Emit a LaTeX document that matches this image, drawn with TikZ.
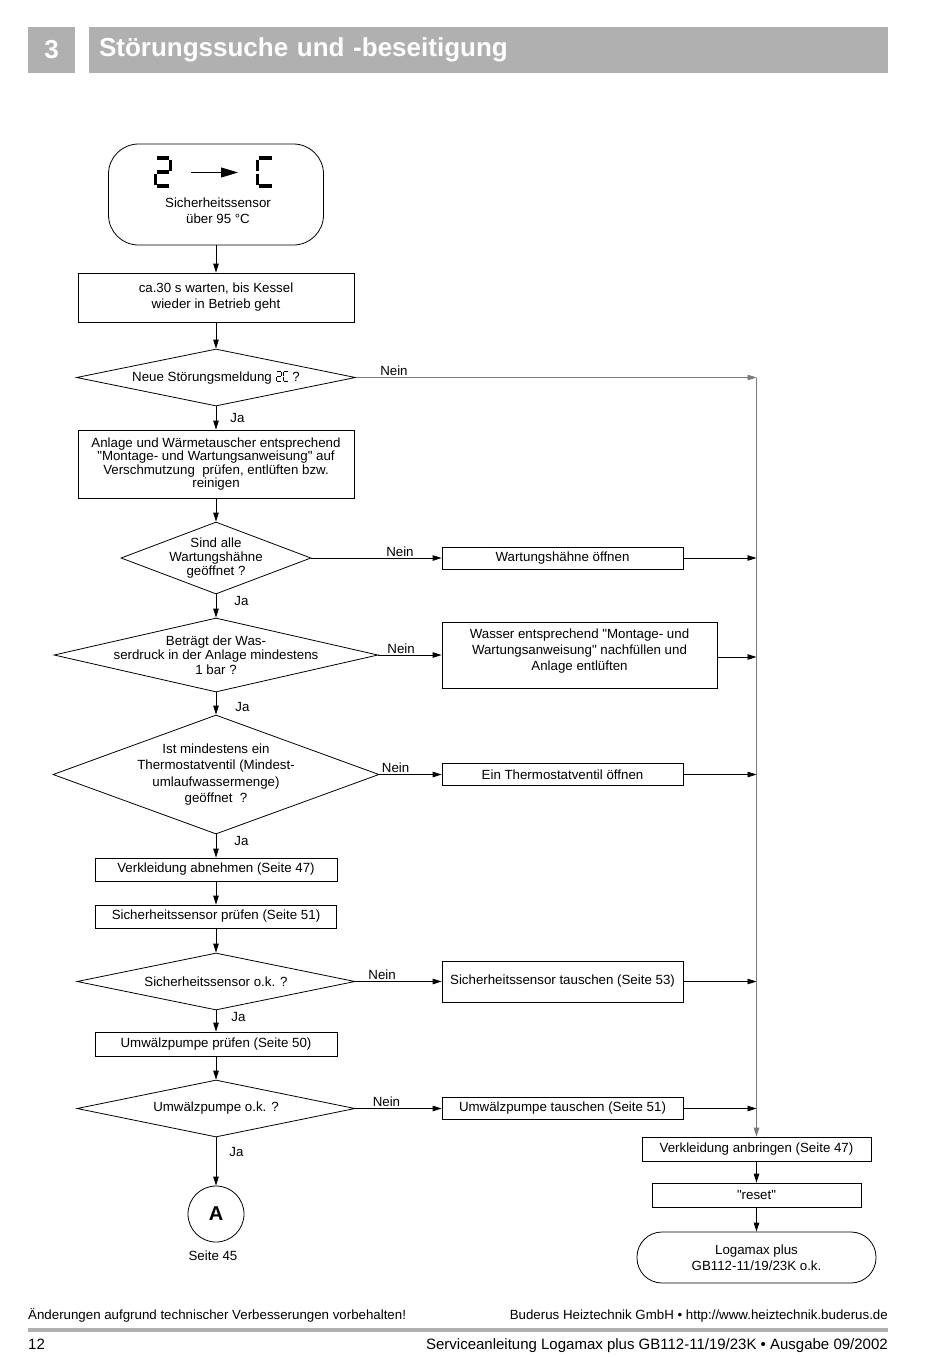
\documentclass[tikz,border=0pt]{standalone}
\usepackage{fontspec}
\setmainfont{Liberation Sans}
\usetikzlibrary{arrows.meta, positioning, shapes.geometric, calc}

\definecolor{hdrgray}{HTML}{B0B0B0}
\definecolor{sidegray}{HTML}{7A7A7A}
\newcommand\fsz[2]{\fontsize{#1}{#2}\selectfont}
\newcommand\qq{\textquotedbl}
% small seven-segment "2C" used inside the first question
\newcommand\minisegs{\tikz[baseline=0pt,x=1pt,y=1pt,line width=1.3pt]{
  \draw (0.3,9.5) -- (4.2,9.5) (4.8,9) -- (4.8,5.3) (0.3,4.8) -- (4.2,4.8)
        (-0.3,4.3) -- (-0.3,0.6) (0.3,0) -- (4.2,0);
  \draw (7.8,9.5) -- (11.5,9.5) (7.2,9) -- (7.2,5.1) (7.2,4.5) -- (7.2,0.6)
        (7.8,0) -- (11.5,0);}}

\begin{document}
\begin{tikzpicture}[x=1pt, y=-1pt,
  hdr/.style  ={fill=hdrgray, text=white, inner sep=0pt, font=\fsz{26}{30}\bfseries},
  box/.style  ={draw, rectangle, inner sep=0pt, align=center, font=\fsz{13.3}{16},
                line width=0.8pt},
  term/.style ={draw, rectangle, inner sep=0pt, align=center, font=\fsz{13.3}{16.5},
                line width=0.8pt},
  dec/.style  ={draw, diamond, inner sep=0pt, line width=0.8pt},
  qtxt/.style ={align=center, inner sep=0pt, font=\fsz{13.3}{14}},
  arr/.style  ={-{Triangle[length=9pt,width=5.5pt]}, line width=0.8pt},
  side/.style ={arr, draw=sidegray, fill=sidegray},
  lbl/.style  ={font=\fsz{13.3}{14}, inner sep=1pt},
  seg/.style  ={line width=3.2pt},
  foot/.style ={inner sep=0pt, font=\fsz{13.3}{14}},
]
\useasboundingbox (0,0) rectangle (950,1357);

%% ---- Header ----
\node[hdr, minimum width=47, minimum height=46] (chap) at (51.5,50) {3};
\node[hdr, minimum width=799, minimum height=46, text width=779, inner xsep=10pt,
      align=left] (title) at (488.5,50) {Störungssuche und -beseitigung};

%% ---- Start: display 2 -> C ----
\node[term, minimum width=215, minimum height=101, rounded corners=30] (start) at (216,194.5) {};
\draw[seg] (157,158) -- (169,158) (170.5,159.5) -- (170.5,170.5) (157,172) -- (169,172)
           (155.5,173.5) -- (155.5,184.5) (157,186) -- (169,186);
\draw[seg] (259,158) -- (272,158) (257.5,159.5) -- (257.5,170.5)
           (257.5,173.5) -- (257.5,184.5) (259,186) -- (272,186);
\draw[-{Triangle[length=17pt,width=10pt]}, line width=0.8pt] (191,172.5) -- (238,172.5);
\node[qtxt, font=\fsz{13.3}{16}] (starttxt) at (218,211) {Sicherheitssensor\\über 95 °C};

%% ---- Main column ----
\node[box, minimum width=276, minimum height=49] (wait)  at (216,297.5)
     {ca.30 s warten, bis Kessel\\wieder in Betrieb geht};
\node[dec, minimum width=279, minimum height=57] (q1) at (216,377.5) {};
\node[qtxt] (q1txt) at (q1) {Neue Störungsmeldung \minisegs\ ?};
\node[box, minimum width=276, minimum height=68, font=\fsz{13.3}{13.4}] (check) at (216,464)
     {Anlage und Wärmetauscher entsprechend\\\qq Montage- und Wartungsanweisung\qq{} auf\\
      Verschmutzung~~prüfen, entlüften bzw.\\reinigen};
\node[dec, minimum width=190, minimum height=72] (q2) at (216,558) {};
\node[qtxt] (q2txt) at (q2) {Sind alle\\Wartungshähne\\geöffnet ?};
\node[dec, minimum width=324, minimum height=74] (q3) at (216,655) {};
\node[qtxt, font=\fsz{13.3}{14.5}] (q3txt) at (q3) {Beträgt der Was-\\serdruck in der Anlage mindestens\\1 bar ?};
\node[dec, minimum width=326, minimum height=119] (q4) at (216,774.5) {};
\node[qtxt, font=\fsz{13.3}{16.3}] (q4txt) at (q4)
     {Ist mindestens ein\\Thermostatventil (Mindest-\\umlaufwassermenge)\\geöffnet~~?};
\node[box, minimum width=242, minimum height=23] (cover) at (216,869.5) {Verkleidung abnehmen (Seite 47)};
\node[box, minimum width=241, minimum height=23] (sens)  at (216,916.5) {Sicherheitssensor prüfen (Seite 51)};
\node[dec, minimum width=278, minimum height=57] (q5) at (216,981.5) {};
\node[qtxt] (q5txt) at (q5) {Sicherheitssensor o.k. ?};
\node[box, minimum width=242, minimum height=24] (pump)  at (216,1044) {Umwälzpumpe prüfen (Seite 50)};
\node[dec, minimum width=278, minimum height=57] (q6) at (216,1108.5) {};
\node[qtxt] (q6txt) at (q6) {Umwälzpumpe o.k. ?};
\node[draw, circle, minimum size=56, inner sep=0pt, line width=0.8pt,
      font=\fsz{20}{22}\bfseries] (A) at (216,1214) {A};
\node[foot] (Apage) at (213,1256) {Seite 45};

%% ---- Remedies ----
\node[box, minimum width=241, minimum height=22] (valves) at (562.5,558) {Wartungshähne öffnen};
\node[box, minimum width=275, minimum height=66, text depth=11pt] (fill) at (579.5,655)
     {Wasser entsprechend \qq Montage- und\\Wartungsanweisung\qq{} nachfüllen und\\Anlage entlüften};
\node[box, minimum width=241, minimum height=22] (therm)  at (562.5,774.5) {Ein Thermostatventil öffnen};
\node[box, minimum width=241, minimum height=41] (sswap)  at (562.5,981.5) {Sicherheitssensor tauschen (Seite 53)};
\node[box, minimum width=241, minimum height=22] (pswap)  at (562.5,1108.5) {Umwälzpumpe tauschen (Seite 51)};

%% ---- Right column ----
\coordinate (rc) at (756.5,377.5);
\node[box, minimum width=229, minimum height=24] (mount) at (756.5,1149) {Verkleidung anbringen (Seite 47)};
\node[box, minimum width=209, minimum height=24] (reset) at (756.5,1195) {\qq reset\qq};
\node[term, minimum width=239, minimum height=51, rounded corners=25] (ok) at (756.5,1257.5)
     {Logamax plus\\GB112-11/19/23K o.k.};

%% ---- Ja path ----
\draw[arr] (start.south) -- (wait.north);
\draw[arr] (wait.south)  -- (q1.north);
\draw[arr] (q1.south) -- node[lbl, right=13pt]{Ja} (check.north);
\draw[arr] (check.south) -- (q2.north);
\draw[arr] (q2.south) -- node[lbl, right=17pt, pos=0.3]{Ja} (q3.north);
\draw[arr] (q3.south) -- node[lbl, right=18pt, pos=0.65]{Ja} (q4.north);
\draw[arr] (q4.south) -- node[lbl, right=17pt, pos=0.3]{Ja} (cover.north);
\draw[arr] (cover.south) -- (sens.north);
\draw[arr] (sens.south) -- (q5.north);
\draw[arr] (q5.south) -- node[lbl, right=14pt, pos=0.3]{Ja} (pump.north);
\draw[arr] (pump.south) -- (q6.north);
\draw[arr] (q6.south) -- node[lbl, right=12pt, pos=0.3]{Ja} (A.north);

%% ---- Nein branches ----
\draw[side] (q1.east) -- node[lbl, above, pos=0.095]{Nein} (rc);
\draw[arr] (q2.east) -- node[lbl, above, pos=0.68]{Nein} (valves.west);
\draw[arr] (q3.east) -- node[lbl, above, pos=0.36]{Nein} (fill.west);
\draw[arr] (q4.east) -- node[lbl, above, pos=0.26]{Nein} (therm.west);
\draw[arr] (q5.east) -- node[lbl, above, pos=0.31]{Nein} (sswap.west);
\draw[arr] (q6.east) -- node[lbl, above, pos=0.36]{Nein} (pswap.west);

%% ---- Remedies -> right column ----
\draw[arr] (valves.east) -- (valves.east -| rc);
\draw[arr] ([yshift=-2pt]fill.east) -- ([yshift=-2pt]fill.east -| rc);
\draw[arr] (therm.east) -- (therm.east -| rc);
\draw[arr] (sswap.east) -- (sswap.east -| rc);
\draw[arr] (pswap.east) -- (pswap.east -| rc);
\draw[side] (rc) -- (mount.north);
\draw[arr] (mount.south) -- (reset.north);
\draw[arr] (reset.south) -- (ok.north);

%% ---- Footer ----
\node[foot, anchor=base west] (note) at (28,1319) {Änderungen aufgrund technischer Verbesserungen vorbehalten!};
\node[foot, anchor=base east] (firm) at (888,1319) {Buderus Heiztechnik GmbH • http://www.heiztechnik.buderus.de};
\fill[hdrgray] (28,1328) rectangle (888,1332);
\node[foot, anchor=base west, font=\fsz{15}{16}] (page) at (28,1349) {12};
\node[foot, anchor=base east, font=\fsz{15}{16}] (manual) at (888,1349)
     {Serviceanleitung Logamax plus GB112-11/19/23K • Ausgabe 09/2002};
\end{tikzpicture}
\end{document}
